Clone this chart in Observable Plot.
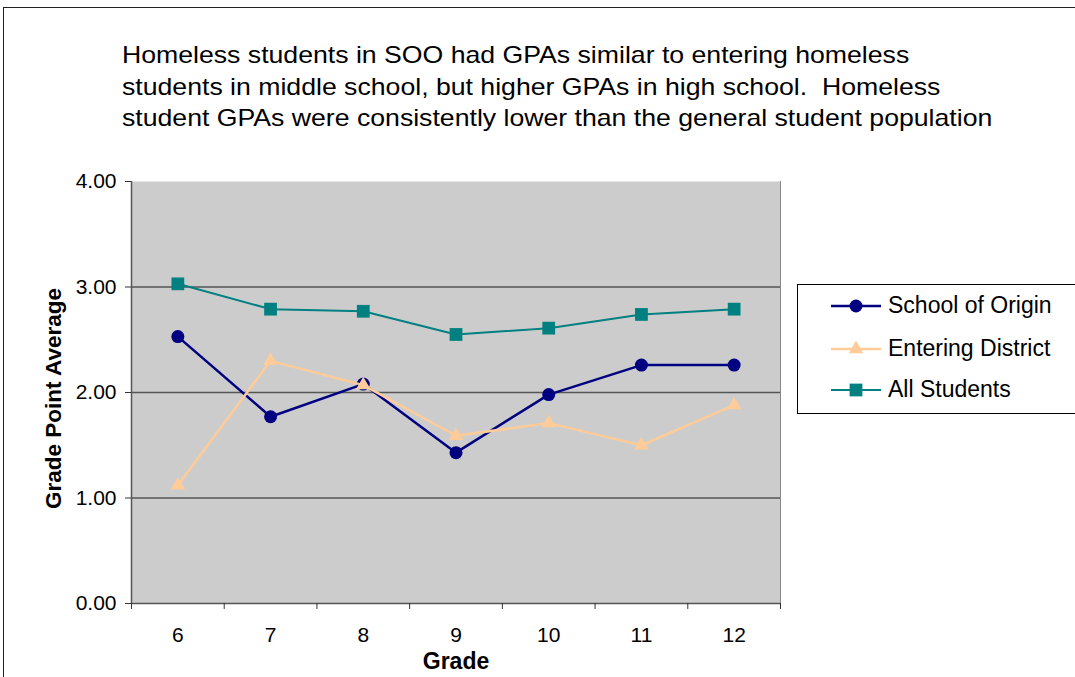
<!DOCTYPE html>
<html>
<head>
<meta charset="utf-8">
<script src="https://cdn.jsdelivr.net/npm/d3@7"></script>
<script src="https://cdn.jsdelivr.net/npm/@observablehq/plot@0.6"></script>
<style>
  html, body { margin: 0; padding: 0; background: #fff; width: 1075px; height: 677px; overflow: hidden; position: relative; font-family: "Liberation Sans", Arial, sans-serif; }
  #frame { position: absolute; left: 3px; top: 7px; width: 1200px; height: 900px; border: 1.5px solid #222; box-sizing: border-box; }
  #chart { position: absolute; left: 0; top: 0; }
  #title { position: absolute; left: 122px; top: 39px; font-size: 24px; line-height: 31.5px; color: #000; transform: scaleX(1.11); transform-origin: left top; white-space: nowrap; }
  #legend { position: absolute; left: 797px; top: 284px; width: 320px; height: 130px; border: 1.5px solid #000; box-sizing: border-box; background: #fff; }
  #legend svg { position: absolute; left: 0; top: 0; }
  #legend .lab { position: absolute; left: 90px; font-size: 23px; color: #000; white-space: nowrap; }
</style>
</head>
<body>
<div id="frame"></div>
<div id="chart"></div>
<div id="title">Homeless students in SOO had GPAs similar to entering homeless<br>students in middle school, but higher GPAs in high school.&nbsp; Homeless<br>student GPAs were consistently lower than the general student population</div>
<div id="legend"></div>
<script>
const grades = [6, 7, 8, 9, 10, 11, 12];
const seriesNames = ["School of Origin", "Entering District", "All Students"];
const schoolOfOrigin = [2.53, 1.77, 2.08, 1.43, 1.98, 2.26, 2.26];
const enteringDistrict = [1.12, 2.30, 2.07, 1.59, 1.71, 1.50, 1.88];
const allStudents = [3.03, 2.79, 2.77, 2.55, 2.61, 2.74, 2.79];
const seriesColors = ["#000080", "#FFCC99", "#008080"];
const seriesSymbols = ["circle", "triangle", "square"];
const yTicks = [0, 1, 2, 3, 4];

const seriesValues = [schoolOfOrigin, enteringDistrict, allStudents];
const rows = [];
seriesNames.forEach((s, i) => grades.forEach((g, j) => rows.push({series: s, grade: g, value: seriesValues[i][j]})));

const boundaries = grades.map(g => g - 0.5).concat([grades[grades.length - 1] + 0.5]);
const rVals = [6.5, 5.4, 7.2];
const lineWidths = [2.5, 2.5, 2];
const yFmt = d3.format(".2f");

const marks = [
  Plot.frame({fill: "#cccccc", stroke: null}),
  Plot.ruleY([1, 2, 3], {stroke: "#555", strokeWidth: 1.5}),
  Plot.ruleX([boundaries[boundaries.length - 1]], {stroke: "#888", strokeWidth: 1}),
  Plot.ruleX([boundaries[0]], {stroke: "#555", strokeWidth: 1.5}),
  Plot.ruleY([0], {stroke: "#555", strokeWidth: 1.5}),
  Plot.axisY({ticks: yTicks, tickFormat: yFmt, tickSize: 6, tickPadding: 9, label: null, stroke: "#333"}),
  Plot.axisX({ticks: boundaries, tickFormat: () => "", tickSize: 6, label: null, stroke: "#333"}),
  Plot.axisX({ticks: grades, tickFormat: d3.format("d"), tickSize: 0, tickPadding: 24, label: null}),
  Plot.text(["Grade"], {frameAnchor: "bottom", dy: 65, fontSize: 23, fontWeight: "bold", fill: "#000"}),
  Plot.text(["Grade Point Average"], {frameAnchor: "left", textAnchor: "middle", dx: -78, dy: 6, rotate: -90, fontSize: 22.5, fontWeight: "bold", fill: "#000"})
];
seriesNames.forEach((s, i) => {
  const d = rows.filter(r => r.series === s);
  marks.push(Plot.line(d, {x: "grade", y: "value", stroke: seriesColors[i], strokeWidth: lineWidths[i]}));
  marks.push(Plot.dot(d, {x: "grade", y: "value", symbol: () => seriesSymbols[i], fill: seriesColors[i], stroke: "none", r: rVals[i]}));
});

const chart = Plot.plot({
  width: 1075,
  height: 677,
  marginTop: 181,
  marginBottom: 74,
  marginLeft: 131,
  marginRight: 295,
  style: {fontFamily: "'Liberation Sans', Arial, sans-serif", fontSize: "21px", color: "#000", background: "transparent"},
  x: {type: "linear", domain: [boundaries[0], boundaries[boundaries.length - 1]], axis: null},
  y: {domain: [0, 4], axis: null},
  symbol: {type: "identity"},
  marks
});
document.getElementById("chart").appendChild(chart);

// enlarge tick labels
const tickLabels = new Set(yTicks.map(yFmt).concat(grades.map(String)));
chart.querySelectorAll("text").forEach(t => {
  if (tickLabels.has(t.textContent.trim())) t.style.fontSize = "21px";
});

// legend
const leg = document.getElementById("legend");
const ns = "http://www.w3.org/2000/svg";
const svg = document.createElementNS(ns, "svg");
svg.setAttribute("width", 90); svg.setAttribute("height", 130);
const rowsY = [21, 64, 105];
seriesNames.forEach((s, i) => {
  const y = rowsY[i];
  const line = document.createElementNS(ns, "line");
  line.setAttribute("x1", 33); line.setAttribute("x2", 83); line.setAttribute("y1", y); line.setAttribute("y2", y);
  line.setAttribute("stroke", seriesColors[i]); line.setAttribute("stroke-width", lineWidths[i]);
  svg.appendChild(line);
  const sym = {circle: d3.symbolCircle, triangle: d3.symbolTriangle, square: d3.symbolSquare}[seriesSymbols[i]];
  const p = document.createElementNS(ns, "path");
  p.setAttribute("d", d3.symbol(sym, Math.PI * rVals[i] * rVals[i])());
  p.setAttribute("transform", `translate(58,${y})`);
  p.setAttribute("fill", seriesColors[i]);
  svg.appendChild(p);
  const t = document.createElement("div");
  t.className = "lab"; t.textContent = s; t.style.top = (y - 14) + "px";
  leg.appendChild(t);
});
leg.appendChild(svg);
</script>
</body>
</html>
